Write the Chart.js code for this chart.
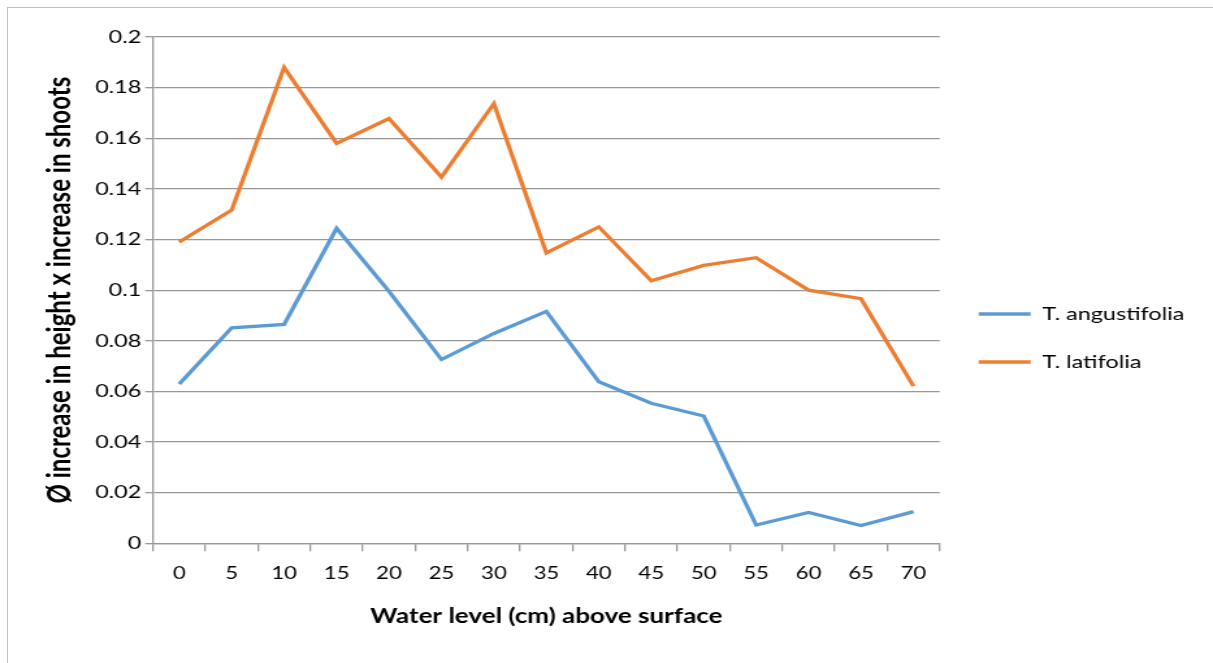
<!DOCTYPE html>
<html>
<head>
<meta charset="utf-8">
<script src="https://cdn.jsdelivr.net/npm/chart.js@4/dist/chart.umd.min.js"></script>
<style>
  html, body { margin: 0; padding: 0; background: #fff; overflow: hidden; }
  #wrap { position: absolute; left: 0; top: 0; width: 1213px; height: 663px; overflow: hidden; }
  #frame { position: absolute; left: 7px; top: 7px; width: 1220px; height: 670px; border-left: 1px solid #bfbfbf; border-top: 1px solid #bfbfbf; }
  canvas { position: absolute; left: 0; top: 0; transform-origin: 0 0; transform: scaleX(1.3001); }
</style>
</head>
<body>
<div id="wrap">
  <div id="frame"></div>
  <canvas id="c" width="933" height="663"></canvas>
</div>
<script>
const categories = ['0','5','10','15','20','25','30','35','40','45','50','55','60','65','70'];
const angustifolia = [0.0629, 0.0851, 0.0865, 0.1244, 0.0995, 0.0726, 0.0829, 0.0916, 0.0638, 0.0553, 0.0503, 0.0072, 0.0122, 0.0070, 0.0125];
const latifolia = [0.1190, 0.1316, 0.1880, 0.1580, 0.1678, 0.1447, 0.1737, 0.1147, 0.1250, 0.1037, 0.1098, 0.1128, 0.1000, 0.0966, 0.0621];
const seriesNames = ['T. angustifolia', 'T. latifolia'];
const yTitle = 'Ø increase in height x increase in shoots';
const xTitle = 'Water level (cm) above surface';

const FONT = 'Lato, "Open Sans", sans-serif';
const GRID = '#979797';

new Chart(document.getElementById('c'), {
  type: 'line',
  data: {
    labels: categories,
    datasets: [
      { label: seriesNames[0], data: angustifolia, borderColor: '#5B9BD5', backgroundColor: '#5B9BD5',
        borderWidth: 3.3, pointRadius: 0, pointStyle: 'line', tension: 0 },
      { label: seriesNames[1], data: latifolia, borderColor: '#ED7D31', backgroundColor: '#ED7D31',
        borderWidth: 3.3, pointRadius: 0, pointStyle: 'line', tension: 0 }
    ]
  },
  options: {
    responsive: false,
    animation: false,
    devicePixelRatio: 1,
    layout: { padding: { left: 29, right: 12, top: 37, bottom: 24 } },
    plugins: {
      tooltip: { enabled: false },
      legend: {
        position: 'right',
        align: 'center',
        labels: {
          usePointStyle: true,
          pointStyleWidth: 40,
          boxHeight: 3,
          padding: 30,
          color: '#000',
          font: { family: FONT, size: 18 }
        }
      }
    },
    scales: {
      x: {
        type: 'category',
        offset: true,
        afterFit: s => { s.height = 95.7; },
        grid: { display: true, drawOnChartArea: false, drawTicks: true, tickLength: 8, offset: true, color: GRID, lineWidth: 1.3 },
        border: { display: true, color: GRID, width: 1.3 },
        ticks: { color: '#000', font: { family: FONT, size: 17 }, padding: 12, maxRotation: 0, autoSkip: false },
        title: { display: true, text: xTitle, color: '#000', font: { family: FONT, size: 20, weight: 'bold' }, padding: { top: 0, bottom: 10 } }
      },
      y: {
        min: 0, max: 0.2,
        afterFit: s => { s.width = 88.7; },
        grid: { color: GRID, lineWidth: 1.3, tickLength: 6, drawTicks: true },
        border: { display: true, color: GRID, width: 1.3 },
        ticks: { stepSize: 0.02, color: '#000', font: { family: FONT, size: 18 }, padding: 3,
          callback: v => String(parseFloat(Number(v).toFixed(2))) },
        title: { display: true, text: yTitle, color: '#000', font: { family: FONT, size: 24, weight: 'bold' }, padding: { top: 3, bottom: 0 } }
      }
    }
  }
});
</script>
</body>
</html>
